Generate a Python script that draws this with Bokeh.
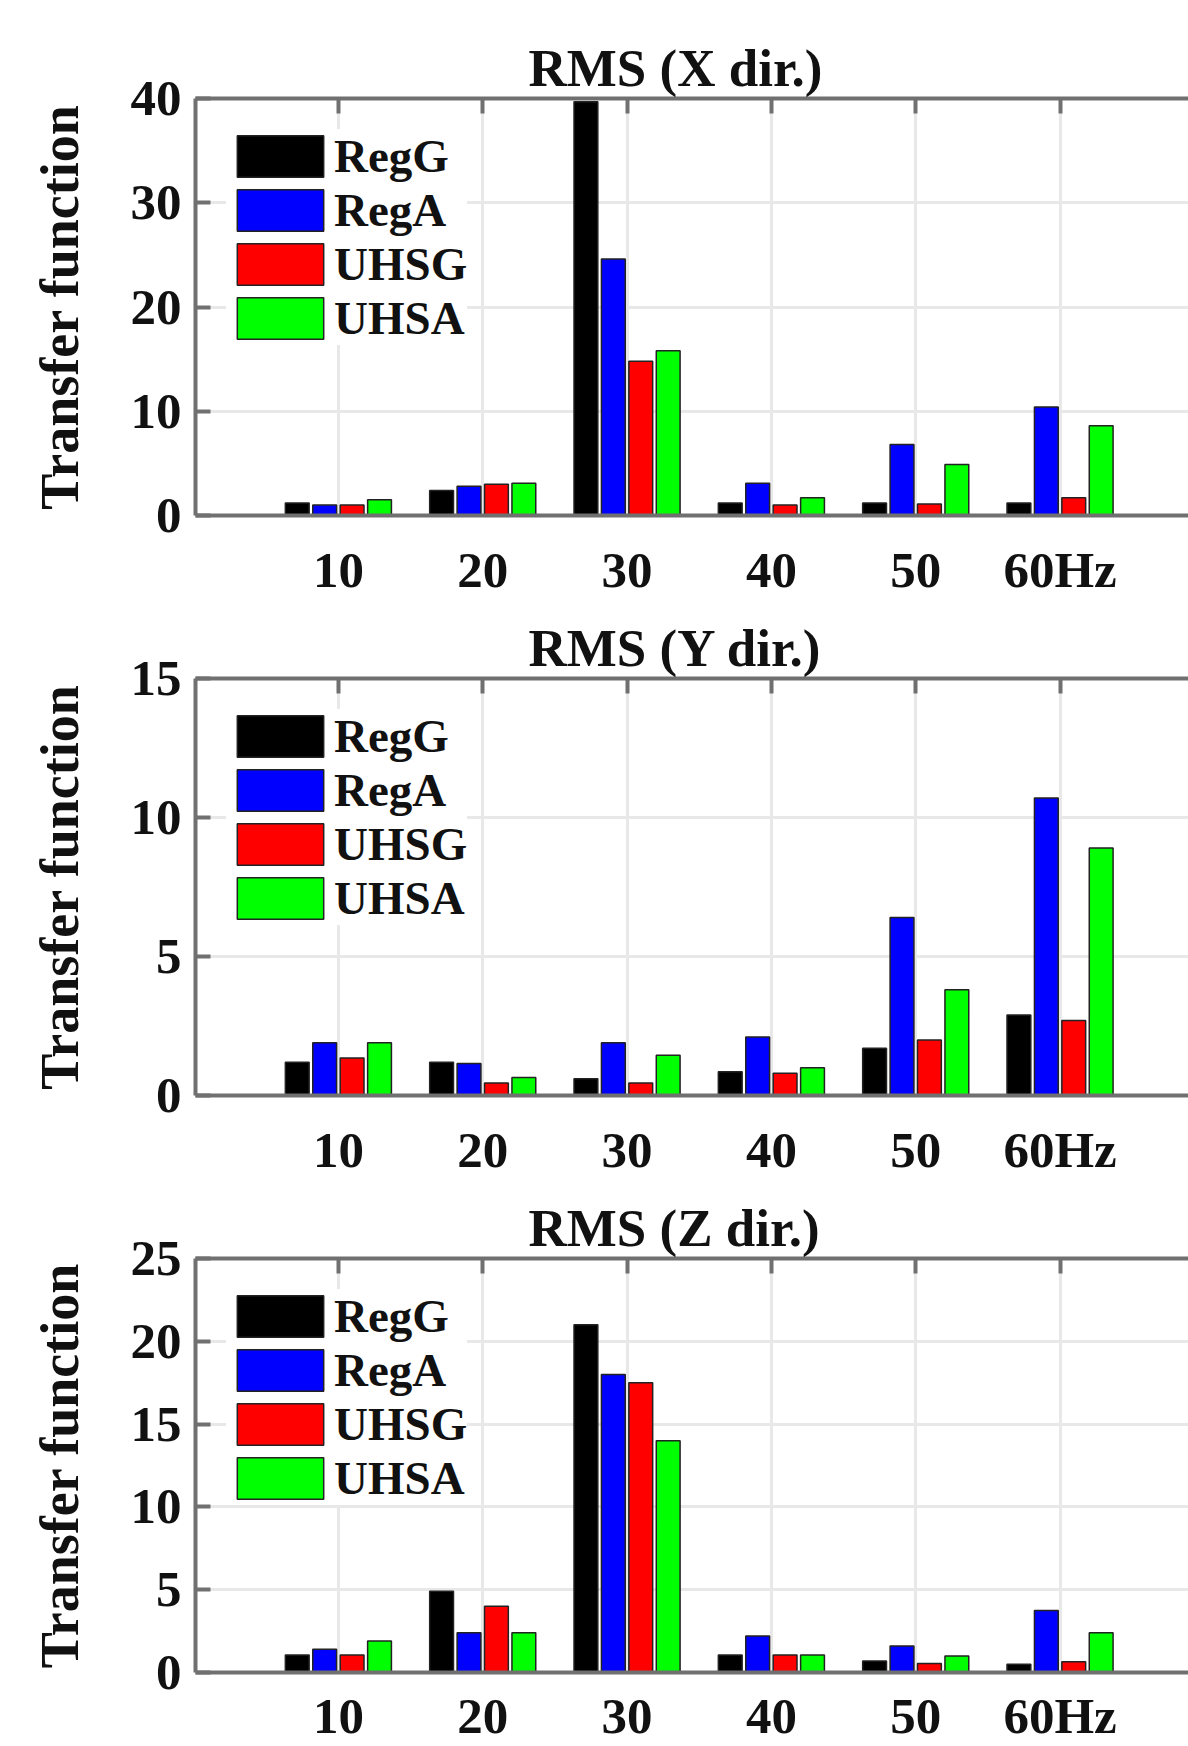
from bokeh.plotting import figure
from bokeh.models import ColumnDataSource, FixedTicker, LinearAxis, Range1d, Legend, LegendItem
from bokeh.layouts import column
from bokeh.transform import dodge
from bokeh.embed import file_html
from bokeh.resources import INLINE

freqs = [10, 20, 30, 40, 50, 60]
x_tick_labels = ["10", "20", "30", "40", "50", "60Hz"]
series_names = ["RegG", "RegA", "UHSG", "UHSA"]
series_colors = ["#000000", "#0000ff", "#ff0000", "#00ff00"]

x_regg = [1.2, 2.4, 39.7, 1.2, 1.2, 1.2]
x_rega = [1.0, 2.8, 24.6, 3.1, 6.8, 10.4]
x_uhsg = [1.0, 3.0, 14.8, 1.0, 1.1, 1.7]
x_uhsa = [1.5, 3.1, 15.8, 1.7, 4.9, 8.6]

y_regg = [1.2, 1.2, 0.6, 0.85, 1.7, 2.9]
y_rega = [1.9, 1.15, 1.9, 2.1, 6.4, 10.7]
y_uhsg = [1.35, 0.45, 0.45, 0.8, 2.0, 2.7]
y_uhsa = [1.9, 0.65, 1.45, 1.0, 3.8, 8.9]

z_regg = [1.05, 4.9, 21.0, 1.05, 0.7, 0.5]
z_rega = [1.4, 2.4, 18.0, 2.2, 1.6, 3.75]
z_uhsg = [1.05, 4.0, 17.5, 1.05, 0.55, 0.65]
z_uhsa = [1.9, 2.4, 14.0, 1.05, 1.0, 2.4]

panels = [
    ("RMS (X dir.)", [x_regg, x_rega, x_uhsg, x_uhsa], 40, 10),
    ("RMS (Y dir.)", [y_regg, y_rega, y_uhsg, y_uhsa], 15, 5),
    ("RMS (Z dir.)", [z_regg, z_rega, z_uhsg, z_uhsa], 25, 5),
]

FONT = "Liberation Serif"
AXIS_COLOR = "#707070"
offsets = [-2.85, -0.95, 0.95, 2.85]
heights = [600, 580, 566]
tops = [98, 78, 78]
xstandoffs = [26, 26, 15]


def make_panel(title, series, ymax, ystep, height, top, xstand):
    p = figure(width=1188, height=height, x_range=Range1d(0.1, 68.9), y_range=Range1d(0, ymax),
               output_backend="svg", toolbar_location=None,
               min_border_left=195, min_border_right=0, min_border_top=top, min_border_bottom=60)
    p.outline_line_color = None
    p.background_fill_color = "white"
    p.border_fill_color = "white"

    data = {"f": freqs}
    for name, vals in zip(series_names, series):
        data[name] = vals
    src = ColumnDataSource(data)

    items = []
    for name, color, off in zip(series_names, series_colors, offsets):
        r = p.vbar(x=dodge("f", off), top=name, width=1.65, bottom=0, source=src,
                   fill_color=color, line_color="#222222", line_width=1.5)
        items.append(LegendItem(label=name, renderers=[r]))

    legend = Legend(items=items, location="top_left", margin=31, padding=12,
                    glyph_width=108, glyph_height=52, spacing=-1, label_standoff=-18,
                    label_text_font=FONT, label_text_font_size="47px",
                    label_text_font_style="bold", label_text_color="#111111",
                    border_line_color=None, background_fill_color="white",
                    background_fill_alpha=1.0)
    p.add_layout(legend)

    p.title.text = title
    p.title.align = "left"
    p.title.offset = 333
    p.title.text_font = FONT
    p.title.text_font_size = "53px"
    p.title.text_font_style = "bold"
    p.title.text_color = "#111111"
    p.title.standoff = 4

    xa = p.xaxis[0]
    xa.ticker = FixedTicker(ticks=freqs)
    xa.major_label_overrides = {f: l for f, l in zip(freqs, x_tick_labels)}
    xa.major_tick_in = 0
    xa.major_tick_out = 0
    xa.major_label_standoff = xstand

    ya = p.yaxis[0]
    ya.ticker = FixedTicker(ticks=list(range(0, ymax + 1, ystep)))
    ya.major_tick_in = 15
    ya.major_tick_out = 0
    ya.major_label_standoff = 14
    ya.axis_label = "Transfer function"
    ya.axis_label_text_font = FONT
    ya.axis_label_text_font_size = "54px"
    ya.axis_label_text_font_style = "bold"
    ya.axis_label_text_color = "#111111"
    ya.axis_label_standoff = 38

    for ax in (xa, ya):
        ax.axis_line_color = AXIS_COLOR
        ax.axis_line_width = 4
        ax.major_tick_line_color = AXIS_COLOR
        ax.major_tick_line_width = 4
        ax.minor_tick_line_color = None
        ax.major_label_text_font = FONT
        ax.major_label_text_font_size = "51px"
        ax.major_label_text_font_style = "bold"
        ax.major_label_text_color = "#111111"

    top_axis = LinearAxis(ticker=FixedTicker(ticks=freqs), major_label_text_font_size="1px",
                          major_label_text_color=None,
                          major_tick_in=15, major_tick_out=0, major_label_standoff=0,
                          axis_line_color=AXIS_COLOR, axis_line_width=4,
                          major_tick_line_color=AXIS_COLOR, major_tick_line_width=4,
                          minor_tick_line_color=None)
    p.add_layout(top_axis, "above")

    for g in (p.xgrid[0], p.ygrid[0]):
        g.grid_line_color = "#e8e8e8"
        g.grid_line_width = 3
    return p


figs = [make_panel(t, s, ym, st, h, tp, xs)
        for (t, s, ym, st), h, tp, xs in zip(panels, heights, tops, xstandoffs)]
layout = column(*figs, spacing=0)
open("out.html", "w").write(file_html(layout, INLINE))
